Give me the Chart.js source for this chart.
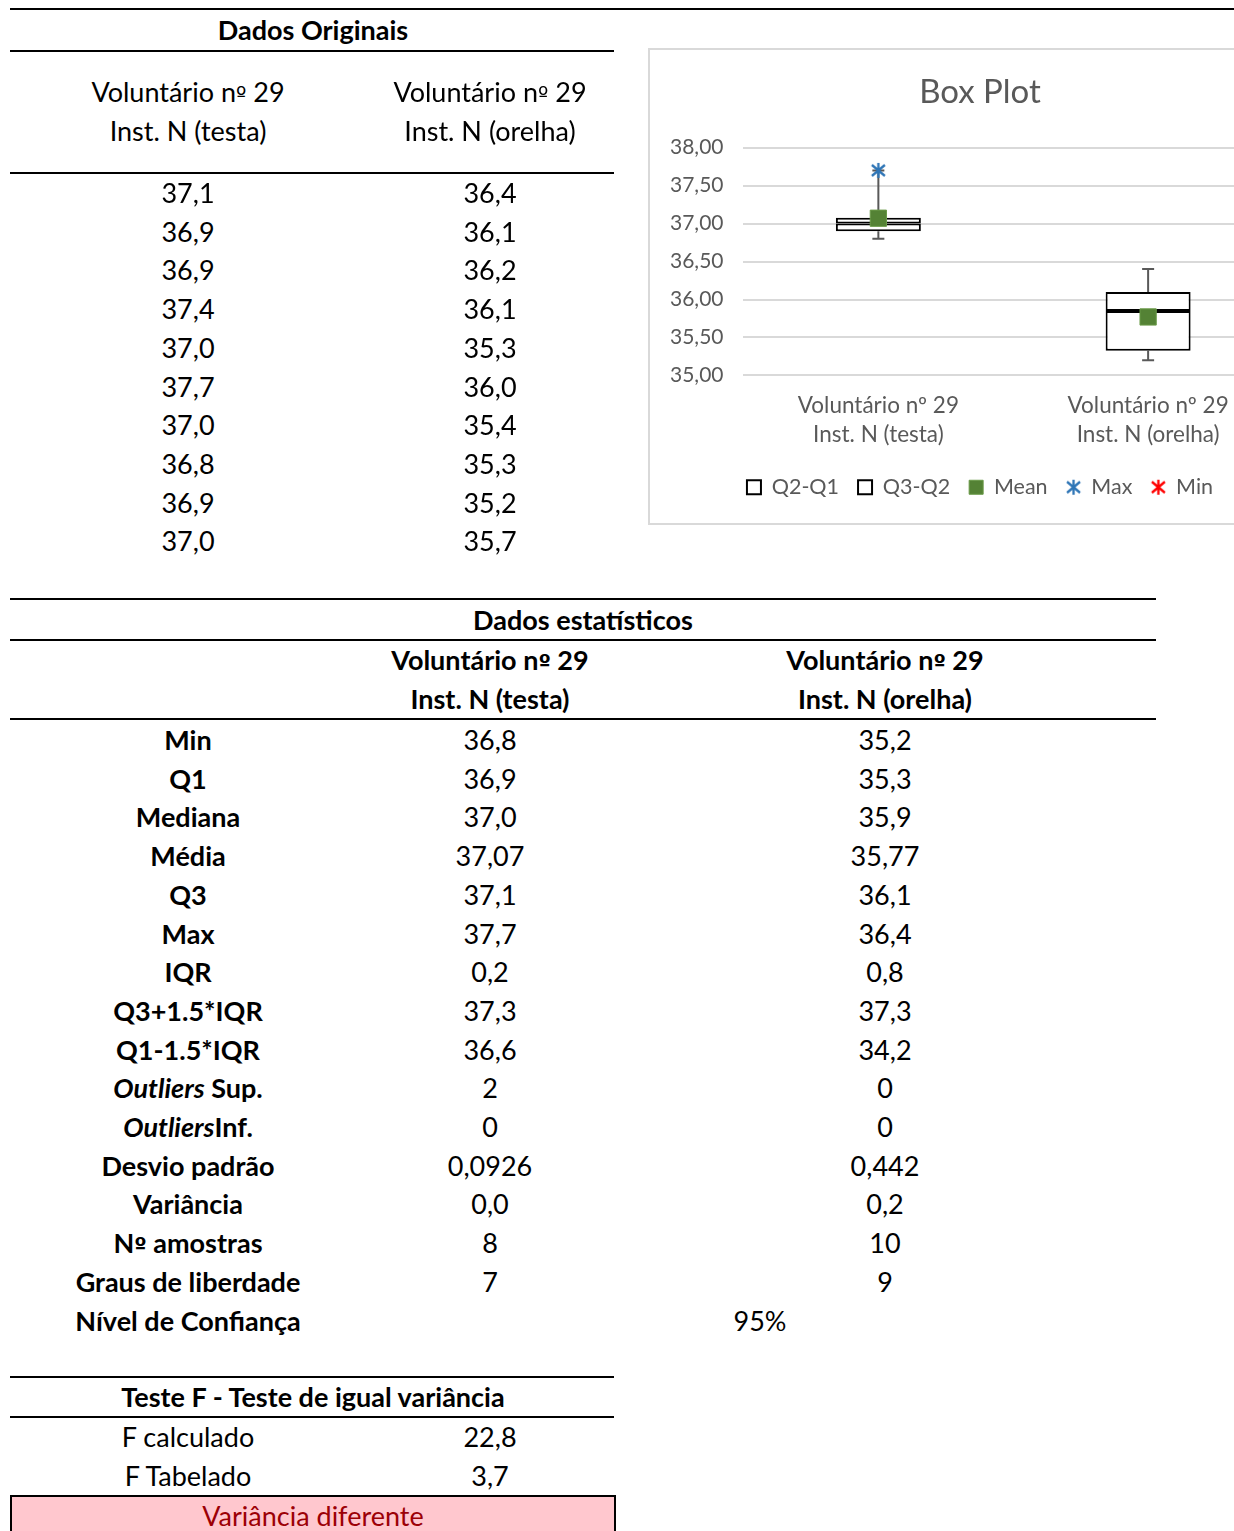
<!DOCTYPE html>
<html>
<head>
<meta charset="utf-8">
<script src="https://cdn.jsdelivr.net/npm/chart.js@4"></script>
<style>
  html, body { margin: 0; padding: 0; overflow: hidden; background: #fff; }
  body { width: 1234px; height: 1531px; position: relative; font-family: Lato, 'Noto Sans', sans-serif; color: #000; }
  .t { position: absolute; width: 420px; text-align: center; font-size: 27px; line-height: 30px; white-space: nowrap; }
  .t .ord { font-family: 'DejaVu Sans'; font-size: 22px; }
  .b { font-weight: bold; }
  .line { position: absolute; height: 2px; background: #000; }
  #chartBox { position: absolute; left: 648px; top: 48px; width: 664px; height: 477px; border: 2px solid #d9d9d9; box-sizing: border-box; }
  #verdict { position: absolute; left: 10px; top: 1495px; width: 606px; height: 50px; box-sizing: border-box; border: 2px solid #000; background: #ffc7ce; color: #9c0006; text-align: center; font-size: 27px; line-height: 38px; }
</style>
</head>
<body>
<div id="chartBox"><canvas id="boxplot" width="660" height="473"></canvas></div>
<div id="verdict">Variância diferente</div>
<script>
// raw data (Dados Originais)
var colHeads = [['Voluntário nº 29', 'Inst. N (testa)'], ['Voluntário nº 29', 'Inst. N (orelha)']];
var testa = [37.1, 36.9, 36.9, 37.4, 37.0, 37.7, 37.0, 36.8, 36.9, 37.0];
var orelha = [36.4, 36.1, 36.2, 36.1, 35.3, 36.0, 35.4, 35.3, 35.2, 35.7];

// statistics table
var statLabels = ['Min', 'Q1', 'Mediana', 'Média', 'Q3', 'Max', 'IQR', 'Q3+1.5*IQR', 'Q1-1.5*IQR',
  '<i>Outliers</i> Sup.', '<i>Outliers</i>Inf.', 'Desvio padrão', 'Variância', 'Nº amostras', 'Graus de liberdade'];
var statTesta = ['36,8', '36,9', '37,0', '37,07', '37,1', '37,7', '0,2', '37,3', '36,6', '2', '0', '0,0926', '0,0', '8', '7'];
var statOrelha = ['35,2', '35,3', '35,9', '35,77', '36,1', '36,4', '0,8', '37,3', '34,2', '0', '0', '0,442', '0,2', '10', '9'];
var confLabel = 'Nível de Confiança';
var confValue = '95%';

// F test
var fLabels = ['F calculado', 'F Tabelado'];
var fValues = ['22,8', '3,7'];

// box plot values
var xLabels = [['Voluntário nº 29', 'Inst. N (testa)'], ['Voluntário nº 29', 'Inst. N (orelha)']];
var minVals = [36.8, 35.2];
var q1Vals = [36.9, 35.325];
var medianVals = [37.0, 35.85];
var q3Vals = [37.075, 36.1];
var maxVals = [37.7, 36.4];
var meanVals = [37.07, 35.77];
var maxMarks = [37.7, null];
var minMarks = [null, null];

function fmt(v, d) { return v.toFixed(d).replace('.', ','); }

function text(html, cx, cy, bold) {
  var el = document.createElement('div');
  el.className = 't' + (bold ? ' b' : '');
  // the ordinal sign looks like a degree sign in Lato, borrow it from DejaVu
  el.innerHTML = html.replace('º', '<span class="ord">º</span>');
  el.style.left = (cx - 210) + 'px';
  el.style.top = (cy - 15) + 'px';
  document.body.appendChild(el);
}
function hline(x1, x2, y) {
  var el = document.createElement('div');
  el.className = 'line';
  el.style.left = x1 + 'px';
  el.style.width = (x2 - x1) + 'px';
  el.style.top = (y - 1) + 'px';
  document.body.appendChild(el);
}

// Dados Originais
hline(10, 1234, 9);
text('Dados Originais', 313, 30, true);
hline(10, 614, 51);
colHeads.forEach(function(h, c) {
  var cx = c === 0 ? 188 : 490;
  text(h[0], cx, 92);
  text(h[1], cx, 131);
});
hline(10, 614, 173);
testa.forEach(function(v, i) {
  text(fmt(v, 1), 188, 193 + i * 38.7);
  text(fmt(orelha[i], 1), 490, 193 + i * 38.7);
});

// Dados estatísticos
hline(10, 1156, 599);
text('Dados estatísticos', 583, 620, true);
hline(10, 1156, 640);
colHeads.forEach(function(h, c) {
  var cx = c === 0 ? 490 : 885;
  text(h[0], cx, 660, true);
  text(h[1], cx, 699, true);
});
hline(10, 1156, 719);
statLabels.forEach(function(l, i) {
  var y = 740 + i * 38.7;
  text(l, 188, y, true);
  text(statTesta[i], 490, y);
  text(statOrelha[i], 885, y);
});
text(confLabel, 188, 740 + 15 * 38.7, true);
text(confValue, 760, 740 + 15 * 38.7);

// Teste F
hline(10, 614, 1377);
text('Teste F - Teste de igual variância', 313, 1397, true);
hline(10, 614, 1417);
fLabels.forEach(function(l, i) {
  text(l, 188, 1437 + i * 39);
  text(fValues[i], 490, 1437 + i * 39);
});

// asterisk marker like the spreadsheet one
function makeAsterisk(color) {
  var c = document.createElement('canvas');
  c.width = 17; c.height = 17;
  var g = c.getContext('2d');
  g.strokeStyle = color;
  g.lineWidth = 2.3;
  g.beginPath();
  g.moveTo(8.5, 1); g.lineTo(8.5, 16);
  g.moveTo(2, 3); g.lineTo(15, 14);
  g.moveTo(15, 3); g.lineTo(2, 14);
  g.stroke();
  return c;
}

const whiskerPlugin = {
  id: 'whiskers',
  beforeDatasetsDraw(chart) {
    const ctx = chart.ctx;
    const x = chart.scales.x, y = chart.scales.y;
    ctx.save();
    ctx.strokeStyle = '#595959';
    ctx.lineWidth = 2;
    for (let i = 0; i < xLabels.length; i++) {
      const px = x.getPixelForValue(i);
      [[q3Vals[i], maxVals[i]], [q1Vals[i], minVals[i]]].forEach(function(s) {
        const y0 = y.getPixelForValue(s[0]), y1 = y.getPixelForValue(s[1]);
        ctx.beginPath();
        ctx.moveTo(px, y0);
        ctx.lineTo(px, y1);
        ctx.moveTo(px - 6, y1);
        ctx.lineTo(px + 6, y1);
        ctx.stroke();
      });
    }
    ctx.restore();
  }
};

const font = 'Lato, "Noto Sans", sans-serif';

new Chart(document.getElementById('boxplot'), {
  data: {
    labels: xLabels,
    datasets: [
      {
        type: 'bar', label: 'Q2-Q1', order: 2, grouped: false,
        data: q1Vals.map((v, i) => [v, medianVals[i]]),
        backgroundColor: '#ffffff', borderColor: '#000000', borderWidth: 2, borderSkipped: false,
        barPercentage: 0.315, categoryPercentage: 1, pointStyle: 'rect'
      },
      {
        type: 'bar', label: 'Q3-Q2', order: 2, grouped: false,
        data: medianVals.map((v, i) => [v, q3Vals[i]]),
        backgroundColor: '#ffffff', borderColor: '#000000', borderWidth: 2, borderSkipped: false,
        barPercentage: 0.315, categoryPercentage: 1, pointStyle: 'rect'
      },
      {
        type: 'line', label: 'Mean', order: 1, showLine: false, data: meanVals,
        pointStyle: 'rect', pointRadius: 11.5, backgroundColor: '#548235', borderColor: '#6a9a48', borderWidth: 1
      },
      {
        type: 'line', label: 'Max', order: 0, showLine: false, data: maxMarks,
        pointStyle: makeAsterisk('#2e75b6'), borderColor: '#2e75b6', backgroundColor: '#2e75b6'
      },
      {
        type: 'line', label: 'Min', order: 0, showLine: false, data: minMarks,
        pointStyle: makeAsterisk('#ff0000'), borderColor: '#ff0000', backgroundColor: '#ff0000'
      }
    ]
  },
  options: {
    responsive: false,
    animation: false,
    layout: { padding: { left: 0, right: 0, top: 0, bottom: 15 } },
    scales: {
      x: {
        grid: { display: false },
        border: { display: false },
        ticks: { color: '#595959', font: { family: font, size: 22.5, lineHeight: 1.29 }, padding: 8, maxRotation: 0 }
      },
      y: {
        min: 35, max: 38,
        grid: { color: '#d9d9d9', lineWidth: 2, drawTicks: false },
        border: { display: false },
        ticks: {
          stepSize: 0.5, color: '#595959', padding: 20,
          font: { family: font, size: 21 },
          callback: (v) => fmt(v, 2)
        }
      },
      // empty right-hand gutter so the plot ends short of the frame
      gutter: {
        type: 'linear', position: 'right',
        grid: { display: false }, border: { display: false },
        ticks: { display: false },
        afterFit: (scale) => { scale.width = 27; }
      }
    },
    plugins: {
      title: {
        display: true, text: 'Box Plot', color: '#595959',
        font: { family: font, size: 33, weight: 'normal' },
        padding: { top: 23, bottom: 35 }
      },
      legend: {
        position: 'bottom',
        labels: {
          color: '#595959', font: { family: font, size: 21.5 },
          usePointStyle: true, boxWidth: 14, boxHeight: 14, padding: 19,
          sort: (a, b) => a.datasetIndex - b.datasetIndex
        }
      },
      tooltip: { enabled: false }
    }
  },
  plugins: [whiskerPlugin]
});
</script>
</body>
</html>
